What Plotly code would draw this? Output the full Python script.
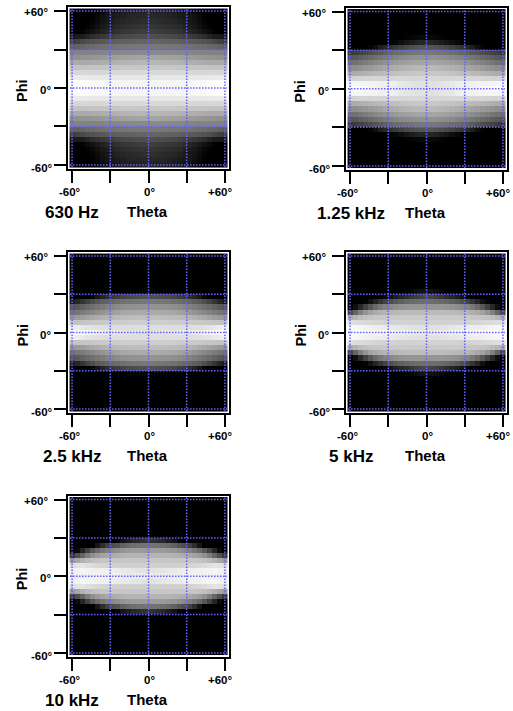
import numpy as np
import plotly.graph_objects as go

W, H = 513, 711
theta_half = [0, 4, 8, 12, 16, 20, 24, 28, 32, 36, 40, 44, 48, 52, 56, 60]
tick_vals = [-60, -30, 0, 30, 60]
tick_labels = {-60: "-60°", 0: "0°", 60: "+60°"}
panel_names = ["630 Hz", "1.25 kHz", "2.5 kHz", "5 kHz", "10 kHz"]

# grey levels of one quadrant; rows phi 0..60, columns theta 0..60
hz630 = [
 [246,246,246,246,246,246,246,247,248,249,250,251,252,254,255,255],
 [245,245,245,245,245,245,245,245,246,246,247,248,250,252,253,253],
 [232,232,232,232,232,232,232,232,232,232,232,232,234,234,235,235],
 [216,216,216,216,216,216,216,216,215,215,215,215,215,215,215,215],
 [200,200,200,200,200,200,198,198,197,197,196,196,195,195,195,195],
 [182,182,182,182,180,180,178,176,175,174,173,172,170,170,170,170],
 [164,164,164,162,162,160,159,157,155,153,151,150,148,146,145,145],
 [138,138,138,137,136,136,135,134,133,132,131,130,130,130,130,130],
 [120,120,120,119,118,117,116,115,114,112,110,108,105,102, 98, 95],
 [100,100, 99, 98, 97, 96, 95, 93, 91, 89, 86, 82, 78, 72, 66, 60],
 [ 78, 78, 77, 76, 74, 72, 68, 64, 60, 56, 50, 44, 36, 28, 26, 25],
 [ 62, 62, 60, 58, 56, 54, 50, 45, 38, 32, 26, 18, 10,  3,  0,  0],
 [ 52, 52, 50, 48, 46, 44, 40, 34, 28, 24, 16,  9,  3,  0,  0,  0],
 [ 46, 46, 44, 42, 40, 38, 34, 28, 24, 20, 12,  4,  0,  0,  0,  0],
 [ 40, 40, 38, 38, 36, 32, 28, 25, 22, 16,  8,  2,  0,  0,  0,  0],
 [ 36, 36, 35, 34, 32, 30, 26, 22, 18, 12,  6,  2,  0,  0,  0,  0],
]
khz125 = [
 [225,225,226,228,230,232,235,238,240,242,245,248,250,252,254,255],
 [225,225,226,228,230,232,238,240,240,240,242,243,244,245,245,245],
 [215,215,215,215,215,215,215,215,214,214,214,213,212,212,211,210],
 [200,200,200,198,197,195,192,190,188,186,184,181,178,175,172,170],
 [185,185,184,182,180,177,174,170,166,162,158,154,150,146,142,140],
 [165,165,164,162,160,157,153,150,145,140,135,130,124,118,113,110],
 [145,145,144,142,140,136,132,128,122,117,112,106,100, 94, 88, 85],
 [120,120,118,116,114,110,107,102, 96, 90, 84, 78, 72, 66, 60, 55],
 [ 85, 85, 82, 78, 72, 66, 58, 50, 40, 30, 15,  5,  0,  0,  0,  0],
 [ 40, 38, 34, 28, 22, 14,  8,  3,  0,  0,  0,  0,  0,  0,  0,  0],
 [ 10,  9,  7,  4,  2,  0,  0,  0,  0,  0,  0,  0,  0,  0,  0,  0],
 [  2,  1,  0,  0,  0,  0,  0,  0,  0,  0,  0,  0,  0,  0,  0,  0],
 [  0,  0,  0,  0,  0,  0,  0,  0,  0,  0,  0,  0,  0,  0,  0,  0],
 [  0,  0,  0,  0,  0,  0,  0,  0,  0,  0,  0,  0,  0,  0,  0,  0],
 [  0,  0,  0,  0,  0,  0,  0,  0,  0,  0,  0,  0,  0,  0,  0,  0],
 [  0,  0,  0,  0,  0,  0,  0,  0,  0,  0,  0,  0,  0,  0,  0,  0],
]
khz25 = [
 [225,225,226,228,228,230,232,234,236,238,240,243,246,250,254,255],
 [222,222,222,222,222,222,222,222,222,223,224,226,228,232,236,240],
 [206,206,206,206,206,205,204,203,202,201,200,199,198,197,196,195],
 [190,190,190,189,188,187,185,183,180,176,172,168,163,158,154,150],
 [170,170,170,169,168,167,163,158,154,148,142,136,130,124,118,113],
 [148,148,147,146,145,143,139,135,130,124,118,112,106, 98, 90, 84],
 [120,120,118,117,115,112,108,105,100, 94, 88, 78, 66, 52, 38, 28],
 [ 80, 80, 78, 76, 74, 68, 62, 56, 46, 36, 22,  6,  0,  0,  0,  0],
 [  5,  5,  4,  3,  2,  0,  0,  0,  0,  0,  0,  0,  0,  0,  0,  0],
 [  0,  0,  0,  0,  0,  0,  0,  0,  0,  0,  0,  0,  0,  0,  0,  0],
 [  0,  0,  0,  0,  0,  0,  0,  0,  0,  0,  0,  0,  0,  0,  0,  0],
 [  0,  0,  0,  0,  0,  0,  0,  0,  0,  0,  0,  0,  0,  0,  0,  0],
 [  0,  0,  0,  0,  0,  0,  0,  0,  0,  0,  0,  0,  0,  0,  0,  0],
 [  0,  0,  0,  0,  0,  0,  0,  0,  0,  0,  0,  0,  0,  0,  0,  0],
 [  0,  0,  0,  0,  0,  0,  0,  0,  0,  0,  0,  0,  0,  0,  0,  0],
 [  0,  0,  0,  0,  0,  0,  0,  0,  0,  0,  0,  0,  0,  0,  0,  0],
]
khz5 = [
 [235,235,236,238,240,242,244,245,246,247,248,250,252,253,255,255],
 [225,225,225,226,228,230,232,235,236,237,238,240,242,245,248,250],
 [210,210,210,210,210,210,210,210,211,212,213,215,217,219,221,224],
 [202,202,202,202,202,202,202,201,200,199,198,196,193,188,180,172],
 [188,188,188,188,188,186,184,182,180,176,170,162,148,128,100, 70],
 [150,150,150,150,148,146,142,136,130,120,106, 88, 65, 40, 15,  0],
 [110,110,108,106,102, 96, 88, 78, 66, 52, 36, 18,  5,  0,  0,  0],
 [ 70, 68, 62, 54, 46, 38, 30, 18,  8,  2,  0,  0,  0,  0,  0,  0],
 [ 20, 18, 14,  9,  3,  0,  0,  0,  0,  0,  0,  0,  0,  0,  0,  0],
 [  2,  1,  0,  0,  0,  0,  0,  0,  0,  0,  0,  0,  0,  0,  0,  0],
 [  0,  0,  0,  0,  0,  0,  0,  0,  0,  0,  0,  0,  0,  0,  0,  0],
 [  0,  0,  0,  0,  0,  0,  0,  0,  0,  0,  0,  0,  0,  0,  0,  0],
 [  0,  0,  0,  0,  0,  0,  0,  0,  0,  0,  0,  0,  0,  0,  0,  0],
 [  0,  0,  0,  0,  0,  0,  0,  0,  0,  0,  0,  0,  0,  0,  0,  0],
 [  0,  0,  0,  0,  0,  0,  0,  0,  0,  0,  0,  0,  0,  0,  0,  0],
 [  0,  0,  0,  0,  0,  0,  0,  0,  0,  0,  0,  0,  0,  0,  0,  0],
]
khz10 = [
 [235,235,235,235,235,238,240,242,242,242,242,242,241,240,238,236],
 [226,226,228,230,232,234,236,238,240,240,240,242,244,246,242,238],
 [208,208,208,208,208,208,208,210,212,214,216,220,224,228,226,222],
 [198,198,198,198,198,198,198,198,198,198,196,192,186,178,166,155],
 [180,180,180,180,180,178,175,172,168,162,155,144,126,102, 80, 56],
 [155,155,155,155,152,148,142,136,128,118,105, 88, 64, 36, 10,  0],
 [115,115,113,110,106, 98, 84, 78, 64, 46, 22,  0,  0,  0,  0,  0],
 [ 50, 48, 44, 40, 30, 20,  5,  0,  0,  0,  0,  0,  0,  0,  0,  0],
 [  0,  0,  0,  0,  0,  0,  0,  0,  0,  0,  0,  0,  0,  0,  0,  0],
 [  0,  0,  0,  0,  0,  0,  0,  0,  0,  0,  0,  0,  0,  0,  0,  0],
 [  0,  0,  0,  0,  0,  0,  0,  0,  0,  0,  0,  0,  0,  0,  0,  0],
 [  0,  0,  0,  0,  0,  0,  0,  0,  0,  0,  0,  0,  0,  0,  0,  0],
 [  0,  0,  0,  0,  0,  0,  0,  0,  0,  0,  0,  0,  0,  0,  0,  0],
 [  0,  0,  0,  0,  0,  0,  0,  0,  0,  0,  0,  0,  0,  0,  0,  0],
 [  0,  0,  0,  0,  0,  0,  0,  0,  0,  0,  0,  0,  0,  0,  0,  0],
 [  0,  0,  0,  0,  0,  0,  0,  0,  0,  0,  0,  0,  0,  0,  0,  0],
]
panel_data = [hz630, khz125, khz25, khz5, khz10]

# plot frames in page pixels: left, right, top, bottom
frames = [(68, 229, 7, 169), (346, 507, 7.5, 170), (68, 229, 252, 413),
          (346, 507, 252, 413), (68, 229, 495.5, 657)]
name_shift = [3.5, 5, 4, 5, 4]

FONT = "Liberation Sans, Arial, sans-serif"
BLUE = "#6262ff"
fig = go.Figure()
axis_half = 63.2


def mirror(q):
    q = np.array(q)
    right = np.hstack([q[:, :0:-1], q])
    return np.vstack([right[:0:-1], right])


axis_common = dict(range=[-axis_half, axis_half], tickvals=tick_vals, showticklabels=False,
                   ticks="outside", ticklen=12, tickwidth=2, tickcolor="black",
                   showline=True, linewidth=2, linecolor="black", mirror=True,
                   showgrid=False, zeroline=False)
coords = [-v for v in theta_half[:0:-1]] + theta_half
anns, shapes = [], []
for i, (name, q, fr) in enumerate(zip(panel_names, panel_data, frames)):
    n = "" if i == 0 else str(i + 1)
    xa, ya = "x" + n, "y" + n
    L, R, T, B = fr
    fig.add_trace(go.Heatmap(z=mirror(q), x=coords, y=coords, xaxis=xa, yaxis=ya,
                             zmin=0, zmax=255, showscale=False, zsmooth=False,
                             colorscale=[[0, "black"], [1, "white"]]))
    fig.update_layout({
        "xaxis" + n: dict(axis_common, domain=[L / W, R / W], anchor=ya),
        "yaxis" + n: dict(axis_common, domain=[1 - B / H, 1 - T / H], anchor=xa),
    })
    for v in tick_vals:
        dotted = dict(type="line", line=dict(color=BLUE, width=1.5, dash="1.5px,1.5px"), layer="above")
        shapes.append(dict(dotted, xref=xa, yref=ya, x0=v, x1=v, y0=-axis_half + 1.6, y1=axis_half - 1.6))
        shapes.append(dict(dotted, xref=xa, yref=ya, y0=v, y1=v, x0=-axis_half + 1.6, x1=axis_half - 1.6))
    tick_font = dict(family=FONT, size=11.5, color="black")
    # y tick labels
    for v, sx, sy in [(60, -17, 1), (0, -15, 2), (-60, -13, 3)]:
        anns.append(dict(text="<b>%s</b>" % tick_labels[v], xref=xa + " domain", yref=ya, x=0, y=v,
                         xanchor="right", yanchor="middle", xshift=sx, yshift=-sy,
                         showarrow=False, font=tick_font))
    # x tick labels
    for v, sx in [(-60, -2), (0, 1), (60, -4)]:
        anns.append(dict(text="<b>%s</b>" % tick_labels[v], xref=xa, yref=ya + " domain", x=v, y=0,
                         xanchor="center", yanchor="middle", yshift=-23, xshift=sx,
                         showarrow=False, font=tick_font))
    anns.append(dict(text="<b>Theta</b>", xref=xa, yref=ya + " domain", x=0, y=0, xanchor="center",
                     yanchor="middle", yshift=-42, xshift=-1, showarrow=False,
                     font=dict(family=FONT, size=15, color="black")))
    anns.append(dict(text="<b>%s</b>" % name, xref=xa + " domain", yref=ya + " domain", x=0, y=0,
                     xanchor="center", yanchor="middle", xshift=name_shift[i], yshift=-43,
                     showarrow=False, font=dict(family=FONT, size=17, color="black")))
    anns.append(dict(text="<b>Phi</b>", xref=xa + " domain", yref=ya, x=0, y=0, xanchor="center",
                     yanchor="middle", xshift=-46, yshift=-3, textangle=-90, showarrow=False,
                     font=dict(family=FONT, size=14.5, color="black")))

fig.update_layout(width=W, height=H, autosize=False, margin=dict(l=0, r=0, t=0, b=0),
                  paper_bgcolor="white", plot_bgcolor="white", annotations=anns, shapes=shapes,
                  showlegend=False)
fig.write_html("out.html", config={"displayModeBar": False},
               post_script="document.body.style.margin='0';")
